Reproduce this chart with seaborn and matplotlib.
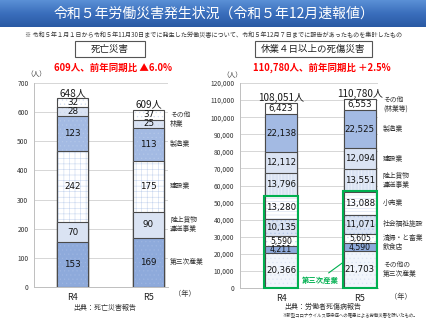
import numpy as np
import pandas as pd
import matplotlib
matplotlib.use("Agg")
import matplotlib.pyplot as plt
from matplotlib.patches import Rectangle
from matplotlib.ticker import FuncFormatter
import seaborn as sns

sns.set_theme(style="white")
plt.rcParams['font.family'] = ['Noto Sans CJK JP', 'DejaVu Sans']
plt.rcParams['hatch.linewidth'] = 0.4

# ---- data ----
years = ["R4", "R5"]

# deaths (bottom -> top)
cats_d = ["第三次産業", "陸上貨物\n運送事業", "建設業", "製造業", "林業", "その他"]
r4_d = [153, 70, 242, 123, 28, 32]
r5_d = [169, 90, 175, 113, 25, 37]

# injuries 4+ days off (bottom -> top)
cats_i = ["その他の\n第三次産業", "飲食店", "清掃・と畜業", "社会福祉施設", "小売業",
          "陸上貨物\n運送事業", "建設業", "製造業", "その他\n(林業等)"]
r4_i = [20366, 4211, 5590, 10135, 13280, 13796, 12112, 22138, 6423]
r5_i = [21703, 4590, 5605, 11071, 13088, 13551, 12094, 22525, 6553]

sub_d = "609人、前年同期比 ▲6.0%"
sub_i = "110,780人、前年同期比 ＋2.5%"

# styles: (face, hatch, hatch color)
sty_d = [("#8EAADB", "....", "#9DB5E1"), ("#DAE3F3", None, "#DAE3F3"),
         ("#FFFFFF", "+++", "#C9D7EF"), ("#A3BAE3", "....", "#B2C6E8"),
         ("#DAE3F3", "....", "#CCD9F0"), ("#FFFFFF", "....", "#D3DEF2")]
sty_i = [("#F1F5FB", "....", "#DCE5F4"), ("#8EAADB", None, "#8EAADB"),
         ("#FFFFFF", "....", "#C9D7EF"), ("#DAE3F3", "....", "#B2C6E8"),
         ("#FFFFFF", "-----", "#D3DEF2"), ("#DAE3F3", "|||||", "#F2F6FC"),
         ("#DAE3F3", None, "#DAE3F3"), ("#A3BAE3", None, "#A3BAE3"),
         ("#FFFFFF", None, "#FFFFFF")]

EDGE = "#4a4a4a"
W, H = 427, 320
fig = plt.figure(figsize=(W / 100, H / 100), dpi=100)


def stacked(ax, v4, v5, cats, styles, width, fs_num, small_th, fmt, lab_off):
    vals = np.array([v4, v5])
    cum = vals.cumsum(axis=1)
    n = len(cats)
    # draw from top down so lower segments cover upper ones
    for k in range(n - 1, -1, -1):
        face, hatch, hc = styles[k]
        df = pd.DataFrame({"year": years, "v": cum[:, k]})
        sns.barplot(data=df, x="year", y="v", ax=ax, color=face, saturation=1,
                    width=width, hatch=hatch, edgecolor=hc, linewidth=0)
        sns.barplot(data=df, x="year", y="v", ax=ax, color=EDGE, fill=False,
                    width=width, linewidth=0.8)
    # numbers inside
    for i in range(2):
        for k in range(n):
            mid = cum[i, k] - vals[i, k] / 2
            fs = fs_num if vals[i, k] > small_th else fs_num - 0.6
            ax.text(i, mid, fmt(vals[i, k]), ha="center", va="center",
                    fontsize=fs, color="#111111", family=["DejaVu Sans"])
        ax.text(i, cum[i, -1], fmt(cum[i, -1]) + "人", ha="center", va="bottom",
                fontsize=7.2, color="#1a1a1a")
    # category labels at right of R5 bar
    for k in range(n):
        mid = cum[1, k] - vals[1, k] / 2
        ax.text(1 + width / 2 + lab_off, mid, cats[k], ha="left", va="center",
                fontsize=4.9, color="#333333", linespacing=1.1, clip_on=False)
    return cum


def style_axes(ax, ymax, step, fmt):
    ax.set_ylim(0, ymax)
    ax.set_yticks(np.arange(0, ymax + 1, step))
    ax.yaxis.set_major_formatter(FuncFormatter(lambda v, p: fmt(int(v))))
    ax.yaxis.grid(True, color="#d0d0d0", linewidth=0.6)
    ax.set_axisbelow(True)
    for s in ["top", "right"]:
        ax.spines[s].set_visible(False)
    for s in ["left", "bottom"]:
        ax.spines[s].set_color("#bfbfbf")
        ax.spines[s].set_linewidth(0.7)
    ax.tick_params(axis="y", labelsize=4.8, length=0, pad=4, labelcolor="#333333")
    ax.tick_params(axis="x", labelsize=6.5, length=0, pad=4, labelcolor="#222222")
    ax.set_xlabel("")
    ax.set_ylabel("")


# ---- left: deaths ----
axL = fig.add_axes([34 / W, 1 - 287 / H, 134 / W, 204 / H])
stacked(axL, r4_d, r5_d, cats_d, sty_d, 0.41, 6.3, 20, lambda v: f"{v}", 0.08)
axL.set_xlim(-0.507, 1.257)
style_axes(axL, 700, 100, lambda v: f"{v}")
axL.text(-0.47, 730, "（人）", fontsize=4.8, ha="center", va="center", color="#333333", clip_on=False)
axL.text(1.48, -25, "（年）", fontsize=5.2, ha="center", va="center", color="#333333", clip_on=False)

# ---- right: injuries ----
axR = fig.add_axes([240 / W, 1 - 288 / H, 138 / W, 205 / H])
cumR = stacked(axR, r4_i, r5_i, cats_i, sty_i, 0.405, 6.2, 6000, lambda v: f"{v:,}", 0.09)
axR.set_xlim(-0.52, 1.23)
style_axes(axR, 120000, 10000, lambda v: f"{v:,}")
axR.text(-0.62, 124500, "（人）", fontsize=4.8, ha="center", va="center", color="#333333", clip_on=False)
axR.text(1.52, -5000, "（年）", fontsize=5.2, ha="center", va="center", color="#333333", clip_on=False)

# green boxes around tertiary industries
GREEN = "#00B050"
for i in range(2):
    axR.add_patch(Rectangle((i - 0.405 / 2 - 0.01, 0), 0.425, cumR[i, 4] + 500,
                            fill=False, edgecolor=GREEN, linewidth=1.5, zorder=5, clip_on=False))
axR.annotate("第三次産業", xy=(1 - 0.405 / 2 - 0.01, 15000), xytext=(0.5, 4700),
             ha="center", va="center", fontsize=5.3, color=GREEN, fontweight="bold",
             arrowprops=dict(arrowstyle="-", color=GREEN, lw=0.8, shrinkA=0, shrinkB=0,
                             relpos=(0.6, 1.0)))

# ---- header banner ----
axB = fig.add_axes([0, 1 - 27 / H, 1, 27 / H])
grad = np.linspace(0, 1, 50).reshape(-1, 1)
cmap = matplotlib.colors.LinearSegmentedColormap.from_list("b", ["#5A90D6", "#3A6EBC", "#2A5AA4"])
axB.imshow(grad, aspect="auto", cmap=cmap, extent=[0, 1, 0, 1])
axB.set_axis_off()
axB.text(0.5, 0.5, "令和５年労働災害発生状況（令和５年12月速報値）", ha="center", va="center",
         fontsize=10, color="white", transform=axB.transAxes)

fig.text(214 / W, 1 - 35 / H, "※ 令和５年１月１日から令和５年11月30日までに発生した労働災害について、令和５年12月７日までに報告があったものを集計したもの",
         ha="center", va="center", fontsize=4.4, color="#333333")

# section boxes
for x0, x1, label in [(75, 145, "死亡災害"), (255, 372, "休業４日以上の死傷災害")]:
    fig.patches.append(Rectangle((x0 / W, 1 - 57 / H), (x1 - x0) / W, 16 / H,
                                 transform=fig.transFigure, facecolor="white",
                                 edgecolor="#555555", linewidth=0.8))
    fig.text((x0 + x1) / 2 / W, 1 - 49 / H, label, ha="center", va="center",
             fontsize=6.8, color="#222222")

fig.text(113 / W, 1 - 68 / H, sub_d, ha="center", va="center", fontsize=6.8,
         color="#FF0000", fontweight="bold")
fig.text(322 / W, 1 - 68 / H, sub_i, ha="center", va="center", fontsize=6.8,
         color="#FF0000", fontweight="bold")

fig.text(105 / W, 1 - 308 / H, "出典：死亡災害報告", ha="center", va="center",
         fontsize=5, color="#333333")
fig.text(323 / W, 1 - 307 / H, "出典：労働者死傷病報告", ha="center", va="center",
         fontsize=5, color="#333333")
fig.text(418 / W, 1 - 315 / H, "※新型コロナウイルス感染症への罹患による労働災害を除いたもの。",
         ha="right", va="center", fontsize=3.2, color="#333333")

fig.savefig("out.png", dpi=100)
